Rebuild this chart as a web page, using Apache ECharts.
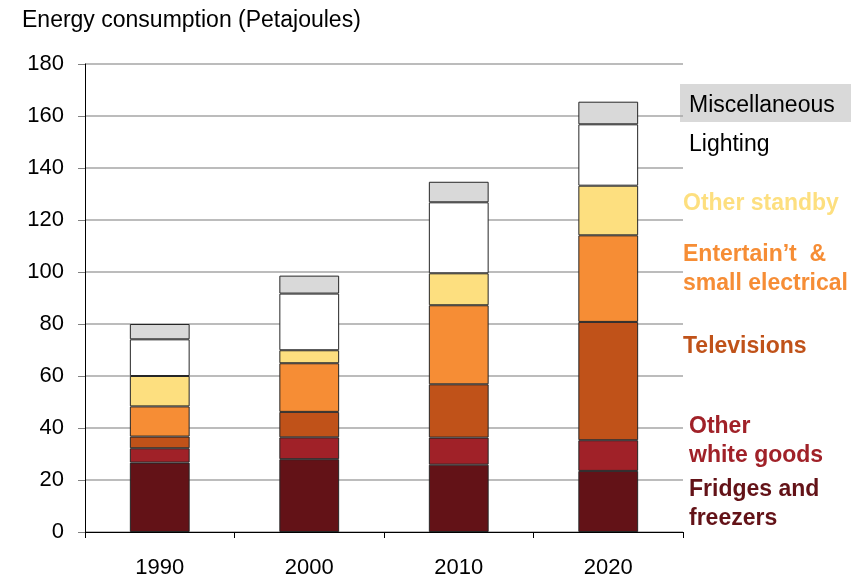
<!DOCTYPE html>
<html>
<head>
<meta charset="utf-8">
<script src="https://cdn.jsdelivr.net/npm/echarts@6/dist/echarts.min.js"></script>
<style>
  html, body { margin: 0; padding: 0; background: #fff; }
  #chart { width: 867px; height: 579px; }
</style>
</head>
<body>
<div id="chart"></div>
<script>
const years = ['1990', '2000', '2010', '2020'];
const fridges = [26.7, 28.0, 25.9, 23.5];
const whiteGoods = [5.5, 8.4, 10.4, 11.8];
const televisions = [4.5, 9.8, 20.5, 45.5];
const entertain = [11.6, 18.7, 30.4, 33.3];
const standby = [11.7, 5.0, 12.3, 19.1];
const lighting = [14.1, 21.8, 27.3, 23.6];
const misc = [5.9, 6.9, 7.9, 8.7];

const font = '"Liberation Sans", Arial, sans-serif';

const chart = echarts.init(document.getElementById('chart'));

function layer(name, data, color) {
    return {
        name: name,
        type: 'bar',
        stack: 'total',
        data: data,
        barWidth: '40%',
        itemStyle: { color: color, borderColor: '#262626', borderWidth: 1 },
        emphasis: { disabled: true }
    };
}

// labels down the right side instead of a legend
function sideText(lines, x, y, color, bold) {
    return {
        type: 'text',
        left: x,
        top: y,
        style: {
            text: lines,
            fill: color,
            font: (bold ? 'bold ' : '') + '23px ' + font,
            lineHeight: 29
        }
    };
}

chart.setOption({
    animation: false,
    grid: { left: 85, right: 184, top: 64, bottom: 47 },
    xAxis: {
        type: 'category',
        data: years,
        axisLine: { lineStyle: { color: '#000', width: 1 } },
        axisTick: { show: true, length: 6, lineStyle: { color: '#000' } },
        axisLabel: { color: '#000', fontSize: 22, fontFamily: font, margin: 25 }
    },
    yAxis: {
        type: 'value',
        min: 0,
        max: 180,
        interval: 20,
        axisLine: { show: true, lineStyle: { color: '#000', width: 1 } },
        axisTick: { show: true, length: 7, lineStyle: { color: '#808080' } },
        axisLabel: { color: '#000', fontSize: 22, fontFamily: font, margin: 21 },
        splitLine: { lineStyle: { color: '#a6a6a6', width: 1.5 } }
    },
    series: [
        layer('Fridges and freezers', fridges, '#631217'),
        layer('Other white goods', whiteGoods, '#a02128'),
        layer('Televisions', televisions, '#c05219'),
        layer('Entertain’t & small electrical', entertain, '#f68d35'),
        layer('Other standby', standby, '#fddf7f'),
        layer('Lighting', lighting, '#ffffff'),
        layer('Miscellaneous', misc, '#d9d9d9')
    ],
    graphic: [
        {
            type: 'text',
            left: 22,
            top: 9,
            style: { text: 'Energy consumption (Petajoules)', fill: '#000', font: '23px ' + font }
        },
        {
            type: 'rect',
            shape: { x: 680, y: 84, width: 171, height: 38 },
            style: { fill: '#d9d9d9' }
        },
        sideText('Miscellaneous', 689, 91, '#000', false),
        sideText('Lighting', 689, 130, '#000', false),
        sideText('Other standby', 683, 189, '#fddf7f', true),
        sideText('Entertain’t  &\nsmall electrical', 683, 240, '#f68d35', true),
        sideText('Televisions', 683, 332, '#c05219', true),
        sideText('Other\nwhite goods', 689, 412, '#a02128', true),
        sideText('Fridges and\nfreezers', 689, 475, '#631217', true)
    ]
});
</script>
</body>
</html>
